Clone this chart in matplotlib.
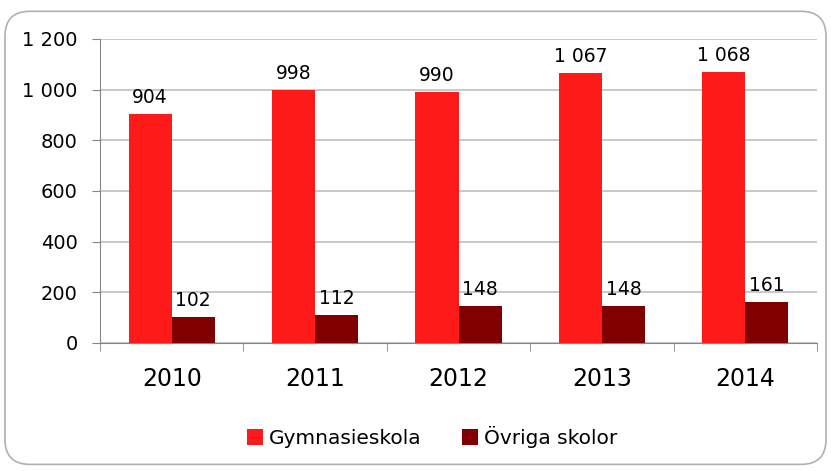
import matplotlib
matplotlib.use("Agg")
import matplotlib.pyplot as plt
import numpy as np
from matplotlib.patches import FancyBboxPatch

years = ["2010", "2011", "2012", "2013", "2014"]
gymnasieskola = [904, 998, 990, 1067, 1068]
ovriga = [102, 112, 148, 148, 161]
series_names = ["Gymnasieskola", "Övriga skolor"]
yticks = [0, 200, 400, 600, 800, 1000, 1200]

def fmt(v):
    return f"{v:,}".replace(",", " ")

plt.rcParams['font.family'] = ['DejaVu Sans']

fig = plt.figure(figsize=(8.31, 4.71), dpi=100)
fig.patches.append(FancyBboxPatch((0.006, 0.014), 0.988, 0.962,
                                  boxstyle="round,pad=0,rounding_size=0.03",
                                  transform=fig.transFigure, fill=False,
                                  edgecolor="#b0b0b0", linewidth=1.2, mutation_aspect=831/471))
ax = fig.add_axes([100/831, 1 - 343/471, 717/831, 304/471])

x = np.arange(len(years))
w = 0.3
c1, c2 = "#FF1A1A", "#800000"
b1 = ax.bar(x - w/2, gymnasieskola, w, color=c1, label=series_names[0], zorder=3)
b2 = ax.bar(x + w/2, ovriga, w, color=c2, label=series_names[1], zorder=3)
for rects, vals in ((b1, gymnasieskola), (b2, ovriga)):
    for r, v in zip(rects, vals):
        ax.annotate(fmt(v), (r.get_x() + r.get_width()/2, v), xytext=(0, 5),
                    textcoords="offset points", ha="center", va="bottom",
                    fontsize=13.5, color="#000000")

ax.set_xlim(-0.5, len(years) - 0.5)
ax.set_ylim(0, 1200)
ax.set_yticks(yticks)
ax.set_yticklabels([fmt(v) for v in yticks], fontsize=14)
ax.set_xticks(x)
ax.set_xticklabels(years, fontsize=17)
ax.set_xticks(np.arange(-0.5, len(years)), minor=True)
ax.tick_params(axis="x", which="major", length=0, pad=17)
ax.tick_params(axis="x", which="minor", length=6, color="#868686")
ax.tick_params(axis="y", length=6, color="#868686", pad=10)
ax.grid(axis="y", color="#bfbfbf", linewidth=1.2, zorder=0)
for s in ["top", "right"]:
    ax.spines[s].set_visible(False)
ax.spines["left"].set_color("#868686")
ax.spines["bottom"].set_color("#868686")

fig.legend(handles=[b1, b2], labels=series_names, loc="center", bbox_to_anchor=(0.52, 1 - 437/471),
           ncol=2, frameon=False, fontsize=14.5, handlelength=0.8, handleheight=0.8,
           columnspacing=2.0, handletextpad=0.3)

fig.savefig("out.png", dpi=100)
